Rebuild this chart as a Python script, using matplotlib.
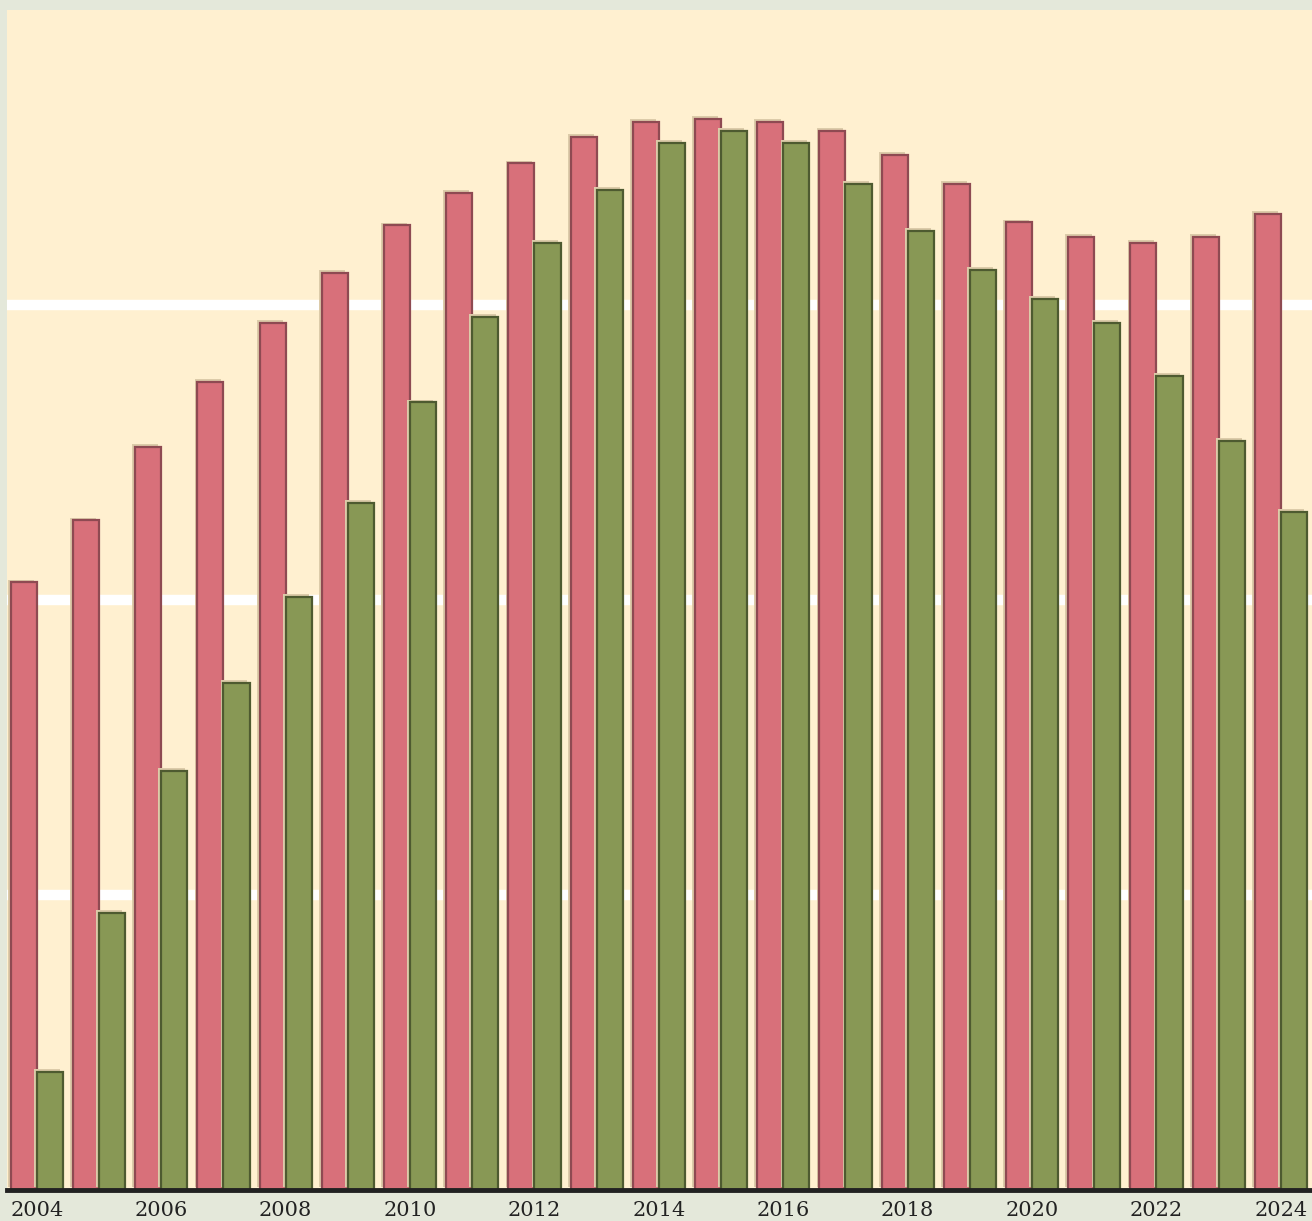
import numpy as np
import matplotlib
matplotlib.use("Agg")
import matplotlib.pyplot as plt
import matplotlib.patheffects as pe

# --- data (units: gridline = 10) ---
years = list(range(2004, 2025))
red_values = [20.6, 22.7, 25.2, 27.4, 29.4, 31.1, 32.7, 33.8, 34.8, 35.7, 36.2,
              36.3, 36.2, 35.9, 35.1, 34.1, 32.8, 32.3, 32.1, 32.3, 33.1]
green_values = [4.0, 9.4, 14.2, 17.2, 20.1, 23.3, 26.7, 29.6, 32.1, 33.9, 35.5,
                35.9, 35.5, 34.1, 32.5, 31.2, 30.2, 29.4, 27.6, 25.4, 23.0]
tick_years = list(range(2004, 2025, 2))

# --- figure ---
fig = plt.figure(figsize=(13.12, 12.21), dpi=100, facecolor="#E4E8DA")
ax = fig.add_axes([7 / 1312, 1 - 1190 / 1221, 1 - 7 / 1312, (1190 - 10) / 1221])
ax.set_facecolor("#FFF0D0")

x = np.array(years)
w = 0.42
shadow = [pe.SimplePatchShadow(offset=(-2, 2), shadow_rgbFace="#DCCBA9", alpha=1.0), pe.Normal()]

ax.bar(x - w / 2, red_values, width=w, color="#D8707A", edgecolor="#8E4A52",
       linewidth=1.6, zorder=3, path_effects=shadow)
ax.bar(x + w / 2, green_values, width=w, color="#889855", edgecolor="#4E5A30",
       linewidth=1.6, zorder=3, path_effects=shadow)

# white gridlines behind bars
for gy in [10, 20, 30]:
    ax.axhline(gy, color="white", linewidth=7.5, zorder=1)

ax.set_xlim(2003.52, 2024.5)
ax.set_ylim(0, 40)
ax.set_yticks([])
ax.set_xticks(tick_years)
ax.set_xticklabels([str(t) for t in tick_years], fontsize=15,
                   family="DejaVu Serif", color="#222222")
ax.tick_params(axis="x", length=0, pad=8)

for side in ["top", "left", "right"]:
    ax.spines[side].set_visible(False)
ax.spines["bottom"].set_color("#222222")
ax.spines["bottom"].set_linewidth(3.5)
ax.spines["bottom"].set_zorder(4)

fig.savefig("out.png", dpi=100, facecolor=fig.get_facecolor())
